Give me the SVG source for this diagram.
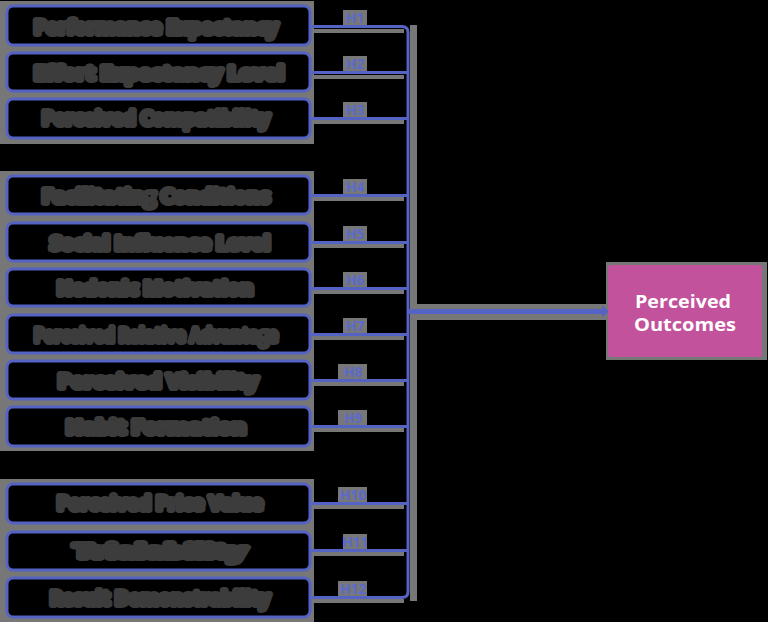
<svg xmlns="http://www.w3.org/2000/svg" width="768" height="622" viewBox="0 0 768 622">
<style>
.halo{fill:#777777}
.box{fill:#000000;stroke:#5563c4;stroke-width:3}
.btxt{font-family:"Open Sans","Liberation Sans",sans-serif;font-size:19px;font-weight:700;fill:#3c3c3c;stroke:#3c3c3c;stroke-width:6;stroke-linejoin:round;text-anchor:middle}
.ln{fill:none;stroke:#5563c4;stroke-width:3;stroke-linejoin:round}
.lnh{fill:none;stroke:#777777;stroke-width:4}
.lbl{font-family:"Open Sans","Liberation Sans",sans-serif;font-size:14px;font-weight:700;fill:#5a6acf;text-anchor:middle}
.out{fill:#c2529b}
.otxt{font-family:"Open Sans","Liberation Sans",sans-serif;font-size:18px;font-weight:700;fill:#ffffff;text-anchor:middle}
</style>
<rect width="768" height="622" fill="#000000"/>

<g id="halos">
<rect class="halo" x="0" y="1" width="314" height="143"/>
<rect class="halo" x="0" y="171" width="314" height="280"/>
<rect class="halo" x="0" y="479" width="314" height="143"/>
<rect class="halo" x="410" y="25" width="7" height="576"/>
<rect class="halo" x="412" y="304" width="196" height="16"/>
<rect class="halo" x="606" y="262" width="161" height="98"/>
</g>

<g id="connectors">
<path class="lnh" d="M311 31H404 M311 77H404 M311 122H404 M311 199H404 M311 246H404 M311 292H404 M311 338H404 M311 384H404 M311 430H404 M311 507H404 M311 554H404 M311 601H404"/>
<path class="ln" d="M311 26.5H402Q408 26.5 408 32.5V591.5Q408 597.5 402 597.5H311"/>
<path class="ln" d="M311 72.5H408 M311 118.5H408 M311 195.5H408 M311 242.5H408 M311 288.5H408 M311 334.5H408 M311 380.5H408 M311 426.5H408 M311 503.5H408 M311 550.5H408"/>
<path fill="none" stroke="#5563c4" stroke-width="5" d="M408 311.5H604"/>
<path fill="#5563c4" d="M602 305.5L609 311.5L602 317.5Z"/>
<g id="labels">
<rect class="halo" x="343" y="10" width="24" height="15"/>
<rect class="halo" x="343" y="56" width="24" height="15"/>
<rect class="halo" x="343" y="102" width="24" height="15"/>
<rect class="halo" x="343" y="179" width="24" height="15"/>
<rect class="halo" x="343" y="226" width="24" height="15"/>
<rect class="halo" x="343" y="272" width="24" height="15"/>
<rect class="halo" x="343" y="318" width="24" height="15"/>
<rect class="halo" x="338" y="364" width="29" height="15"/>
<rect class="halo" x="338" y="410" width="29" height="15"/>
<rect class="halo" x="338" y="487" width="29" height="15"/>
<rect class="halo" x="343" y="534" width="24" height="15"/>
<rect class="halo" x="338" y="581" width="29" height="15"/>
<text class="lbl" x="355" y="23">H1</text>
<text class="lbl" x="355" y="69">H2</text>
<text class="lbl" x="355" y="115">H3</text>
<text class="lbl" x="355" y="192">H4</text>
<text class="lbl" x="355" y="239">H5</text>
<text class="lbl" x="355" y="285">H6</text>
<text class="lbl" x="355" y="331">H7</text>
<text class="lbl" x="353" y="377">H8</text>
<text class="lbl" x="353" y="423">H9</text>
<text class="lbl" x="353" y="500">H10</text>
<text class="lbl" x="355" y="547">H11</text>
<text class="lbl" x="353" y="594">H12</text>
</g>
</g>

<g id="n1"><rect class="box" x="7" y="6" width="303" height="39" rx="6"/><text class="btxt" x="156" y="34" textLength="244" lengthAdjust="spacingAndGlyphs">Performance Expectancy</text></g>
<g id="n2"><rect class="box" x="7" y="53" width="303" height="38" rx="6"/><text class="btxt" x="159" y="80" textLength="250" lengthAdjust="spacingAndGlyphs">Effort Expectancy Level</text></g>
<g id="n3"><rect class="box" x="7" y="99" width="303" height="39" rx="6"/><text class="btxt" x="156" y="125" textLength="228" lengthAdjust="spacingAndGlyphs">Perceived Compatibility</text></g>
<g id="n4"><rect class="box" x="7" y="176" width="303" height="38" rx="6"/><text class="btxt" x="156" y="203" textLength="228" lengthAdjust="spacingAndGlyphs">Facilitating Conditions</text></g>
<g id="n5"><rect class="box" x="7" y="223" width="303" height="38" rx="6"/><text class="btxt" x="160" y="250" textLength="220" lengthAdjust="spacingAndGlyphs">Social Influence Level</text></g>
<g id="n6"><rect class="box" x="7" y="269" width="303" height="37" rx="6"/><text class="btxt" x="155" y="295" textLength="196" lengthAdjust="spacingAndGlyphs">Hedonic Motivation</text></g>
<g id="n7"><rect class="box" x="7" y="315" width="303" height="38" rx="6"/><text class="btxt" x="156" y="342" textLength="244" lengthAdjust="spacingAndGlyphs">Perceived Relative Advantage</text></g>
<g id="n8"><rect class="box" x="7" y="361" width="303" height="38" rx="6"/><text class="btxt" x="158" y="388" textLength="200" lengthAdjust="spacingAndGlyphs">Perceived Visibility</text></g>
<g id="n9"><rect class="box" x="7" y="407" width="303" height="39" rx="6"/><text class="btxt" x="156" y="434" textLength="180" lengthAdjust="spacingAndGlyphs">Habit Formation</text></g>
<g id="n10"><rect class="box" x="7" y="484" width="303" height="39" rx="6"/><text class="btxt" x="160" y="510" textLength="206" lengthAdjust="spacingAndGlyphs">Perceived Price Value</text></g>
<g id="n11"><rect class="box" x="7" y="532" width="303" height="38" rx="6"/><text class="btxt" x="160" y="558" textLength="172" lengthAdjust="spacingAndGlyphs">Trialability</text></g>
<g id="n12"><rect class="box" x="7" y="578" width="303" height="39" rx="6"/><text class="btxt" x="160" y="605" textLength="220" lengthAdjust="spacingAndGlyphs">Result Demonstrability</text></g>

<g id="outcome">
<rect class="out" x="608" y="265" width="154" height="92" rx="3"/>
<text class="otxt" x="683" y="308" textLength="96" lengthAdjust="spacingAndGlyphs">Perceived</text>
<text class="otxt" x="685" y="331" textLength="102" lengthAdjust="spacingAndGlyphs">Outcomes</text>
</g>
</svg>
